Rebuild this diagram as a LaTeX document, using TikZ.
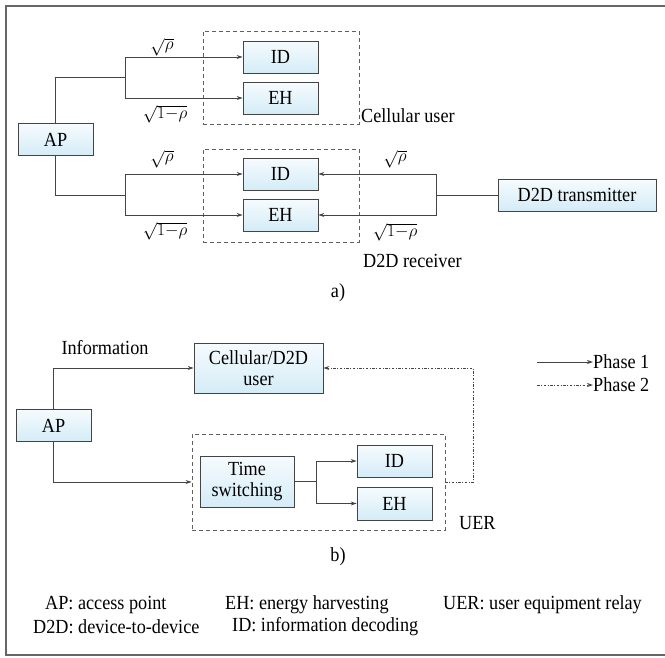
\documentclass[tikz,border=0pt]{standalone}
\usepackage{fontspec}
\setmainfont{Liberation Serif}[FakeStretch=0.91]
\usetikzlibrary{arrows.meta}
\definecolor{boxtop}{HTML}{F6FBFE}
\definecolor{boxbot}{HTML}{D4ECF7}
\definecolor{edge}{HTML}{444444}
\begin{document}
\begin{tikzpicture}[x=1pt,y=-1pt,
  blk/.style={draw=edge, line width=0.8pt, top color=boxtop, bottom color=boxbot,
    minimum width=75pt, minimum height=32pt, inner sep=0pt, align=center,
    font=\fontsize{20}{21}\selectfont},
  grp/.style={draw=edge!85, dash pattern=on 4pt off 3pt, line width=0.8pt, inner sep=0pt},
  ln/.style={draw=edge, line width=0.8pt},
  arr/.style={ln, -{Stealth[length=6pt,width=4pt]}},
  ph2/.style={arr, dash pattern=on 2.5pt off 1.5pt on 1pt off 1.5pt},
  lbl/.style={font=\fontsize{20}{22}\selectfont, inner sep=0pt},
  mlbl/.style={font=\fontsize{17}{20}\selectfont, inner sep=0pt}]
\useasboundingbox (0,0) rectangle (665,657);
\draw[draw=black!60, line width=1.2pt] (665,6) -- (6,6) -- (6,655) -- (665,655);

% ---------- part a ----------
\node[blk] (APa) at (55.5,139.5) {AP};
\node[blk] (IDa1) at (280.5,57) {ID};
\node[blk] (EHa1) at (280.5,98) {EH};
\node[blk] (IDa2) at (280.5,174) {ID};
\node[blk] (EHa2) at (280.5,215) {EH};
\node[blk, minimum width=158pt] (D2Dt) at (577,195) {D2D transmitter};
\node[grp, minimum width=156pt, minimum height=93pt] (cu) at (281,77.5) {};
\node[grp, minimum width=156pt, minimum height=93pt] (dr) at (281,195.5) {};

\coordinate (ja) at (125,77);
\coordinate (jb) at (125,195);
\coordinate (jc) at (436,195);
\draw[ln] (APa.north) |- (ja);
\draw[arr] (ja) |- (IDa1.west);
\draw[arr] (ja) |- (EHa1.west);
\draw[ln] (APa.south) |- (jb);
\draw[arr] (jb) |- (IDa2.west);
\draw[arr] (jb) |- (EHa2.west);
\draw[ln] (D2Dt.west) -- (jc);
\draw[arr] (jc) |- (IDa2.east);
\draw[arr] (jc) |- (EHa2.east);

\node[mlbl] (l1) at (162,47) {$\sqrt{\rho}$};
\node[mlbl] (l2) at (165,114) {$\sqrt{1{-}\rho}$};
\node[mlbl] (l3) at (162,159) {$\sqrt{\rho}$};
\node[mlbl] (l4) at (165,231) {$\sqrt{1{-}\rho}$};
\node[mlbl] (l5) at (395,159) {$\sqrt{\rho}$};
\node[mlbl] (l6) at (395,232) {$\sqrt{1{-}\rho}$};
\node[lbl, anchor=west] (cul) at (361,116) {Cellular user};
\node[lbl, anchor=west] (drl) at (363,261) {D2D receiver};
\node[lbl] (capa) at (338,293) {a)};

% ---------- part b ----------
\node[blk] (APb) at (53.5,425.5) {AP};
\node[blk, minimum width=129pt, minimum height=50pt] (Cell) at (258.5,368) {Cellular/D2D\\user};
\node[blk, minimum width=94pt, minimum height=51pt] (TS) at (247,481.5) {Time\\switching};
\node[blk] (IDb) at (394.5,461) {ID};
\node[blk, minimum height=33pt] (EHb) at (394.5,503.5) {EH};
\node[grp, minimum width=253pt, minimum height=96pt] (UER) at (318.5,482) {};

\coordinate (jd) at (316,481.5);
\draw[arr] (APb.north) |- (Cell.west);
\draw[arr] (APb.south) |- (UER.west);
\draw[ln] (TS.east) -- (jd);
\draw[arr] (jd) |- (IDb.west);
\draw[arr] (jd) |- (EHb.west);
\draw[ph2] (UER.east) -- ++(28,0) |- (Cell.east);

\node[lbl] (info) at (105,348) {Information};
\node[lbl, anchor=west] (uerl) at (459,523) {UER};
\node[lbl] (capb) at (338,557) {b)};

% legend
\node[lbl, anchor=west] (p1) at (593,362) {Phase 1};
\node[lbl, anchor=west] (p2) at (593,385) {Phase 2};
\coordinate (p1s) at (537,362);
\coordinate (p2s) at (537,385);
\draw[arr] (p1s) -- (p1.west);
\draw[ph2] (p2s) -- (p2.west);

% footer
\node[lbl, anchor=west] (f1) at (45,605) {AP: access point};
\node[lbl, anchor=west] (f2) at (33,627) {D2D: device-to-device};
\node[lbl, anchor=west] (f3) at (225,605) {EH: energy harvesting};
\node[lbl, anchor=west] (f4) at (232,627) {ID: information decoding};
\node[lbl, anchor=west] (f5) at (443,605) {UER: user equipment relay};
\end{tikzpicture}
\end{document}
